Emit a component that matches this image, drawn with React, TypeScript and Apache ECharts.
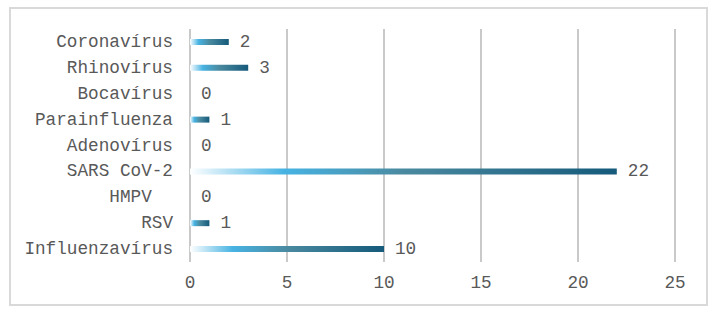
import React, { useEffect, useRef } from "react";
import * as echarts from "echarts";

const categories = [
  "Influenzavírus",
  "RSV",
  "HMPV\u00a0\u00a0",
  "SARS CoV-2",
  "Adenovírus",
  "Parainfluenza",
  "Bocavírus",
  "Rhinovírus",
  "Coronavírus",
];
const values = [10, 1, 0, 22, 0, 1, 0, 3, 2];
const xTicks = { min: 0, max: 25, interval: 5 };

const FONT = "'Liberation Mono', 'Courier New', monospace";
const TEXT = "#595959";

export default function App() {
  const ref = useRef<HTMLDivElement>(null);
  useEffect(() => {
    if (!ref.current) return;
    const chart = echarts.init(ref.current, undefined, { renderer: "svg" });
    chart.setOption({
      animation: false,
      graphic: [
        {
          type: "rect",
          shape: { x: 10, y: 8, width: 697, height: 297 },
          style: { fill: "none", stroke: "#d9d9d9", lineWidth: 2 },
          silent: true,
        },
      ],
      grid: { left: 190, right: 42, top: 29, bottom: 50, containLabel: false },
      xAxis: {
        type: "value",
        min: xTicks.min,
        max: xTicks.max,
        interval: xTicks.interval,
        axisLine: { show: false },
        axisTick: { show: false },
        splitLine: { show: true, lineStyle: { color: "#c9c9c9", width: 2 } },
        axisLabel: { color: TEXT, fontFamily: FONT, fontSize: 17.7, margin: 12 },
      },
      yAxis: {
        type: "category",
        data: categories,
        axisLine: { show: false },
        axisTick: { show: false },
        axisLabel: { color: TEXT, fontFamily: FONT, fontSize: 17.7, margin: 17 },
      },
      series: [
        {
          type: "bar",
          data: values,
          barWidth: 6,
          itemStyle: {
            color: new echarts.graphic.LinearGradient(0, 0, 1, 0, [
              { offset: 0, color: "#ffffff" },
              { offset: 0.22, color: "#47b3e3" },
              { offset: 0.5, color: "#4a8aa0" },
              { offset: 1, color: "#155a7b" },
            ]),
          },
          label: {
            show: true,
            position: "right",
            distance: 11,
            color: TEXT,
            fontFamily: FONT,
            fontSize: 17.7,
          },
        },
      ],
    });
    return () => chart.dispose();
  }, []);
  return (
    <div
      ref={ref}
      style={{ position: "absolute", left: 0, top: 0, width: 717, height: 312 }}
    />
  );
}
